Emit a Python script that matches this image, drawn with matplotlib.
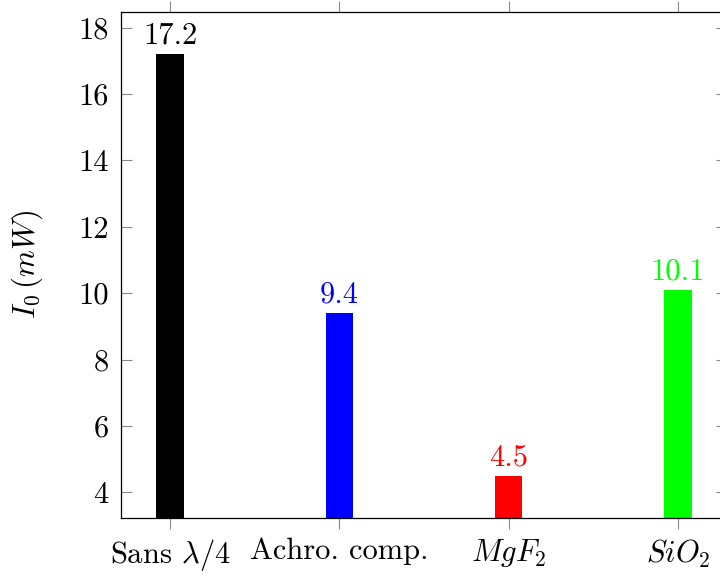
import matplotlib
matplotlib.use("Agg")
import matplotlib.pyplot as plt

plt.rcParams['font.family'] = ['cmr10', 'DejaVu Serif']
plt.rcParams['mathtext.fontset'] = 'cm'
plt.rcParams['axes.formatter.use_mathtext'] = True
plt.rcParams['axes.unicode_minus'] = False

categories = ["Sans $\\lambda/4$", "Achro. comp.", "$MgF_2$", "$SiO_2$"]
values = [17.2, 9.4, 4.5, 10.1]
value_labels = ["17.2", "9.4", "4.5", "10.1"]
colors = ["#000000", "#0000ff", "#ff0000", "#00ff00"]
yticks = [4, 6, 8, 10, 12, 14, 16, 18]

FS = 22

fig = plt.figure(figsize=(7.2, 5.76), dpi=100)
ax = fig.add_axes([121/720, 58/576, (727-121)/720, (518-12)/576])

x = list(range(len(categories)))
ax.bar(x, values, width=0.162, color=colors, zorder=2)
for xi, v, lab, c in zip(x, values, value_labels, colors):
    ax.annotate(lab, (xi, v), xytext=(0, 3), textcoords='offset points',
                ha='center', va='bottom', color=c, fontsize=FS)

ax.set_xlim(-0.29, 3.29)
ax.set_ylim(3.23, 18.47)
ax.set_xticks(x)
ax.set_xticklabels(categories, fontsize=FS)
ax.set_yticks(yticks)
ax.set_yticklabels([str(t) for t in yticks], fontsize=FS)
ax.tick_params(axis='x', direction='out', length=8, width=0.8, color='#888888',
               top=True, pad=6)
ax.tick_params(axis='y', direction='in', length=8, width=0.8, color='#888888',
               right=True, pad=9)
for s in ax.spines.values():
    s.set_linewidth(0.9)
ax.set_ylabel("$I_0\\,(mW)$", fontsize=FS, labelpad=24)

fig.savefig("out.png", dpi=100)
